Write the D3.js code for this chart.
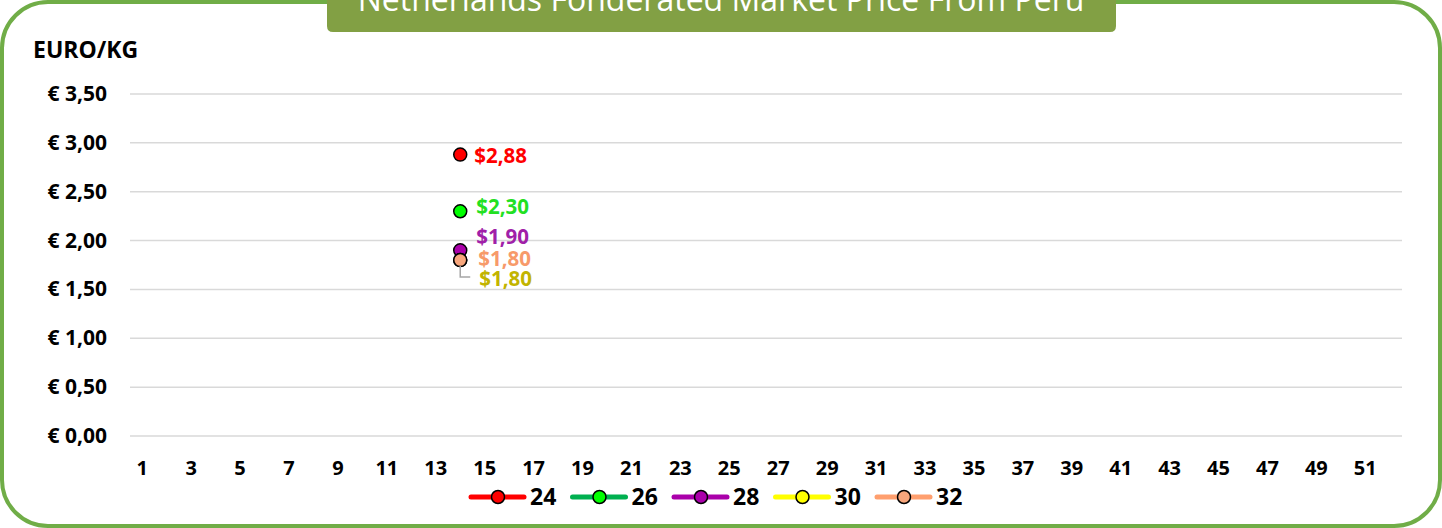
<!DOCTYPE html>
<html>
<head>
<meta charset="utf-8">
<script src="https://cdn.jsdelivr.net/npm/d3@7"></script>
<style>
  html, body { margin: 0; padding: 0; background: #fff; }
  svg { display: block; font-family: "Open Sans", "Noto Sans", sans-serif; }
</style>
</head>
<body>
<div id="chart"></div>
<script>
// chart data
const weeks = d3.range(1, 53);
const seriesNames = ["24", "26", "28", "30", "32"];
const seriesWeek = [14, 14, 14, 14, 14];
const seriesValues = [2.88, 2.30, 1.90, 1.80, 1.80];
const seriesLabels = ["$2,88", "$2,30", "$1,90", "$1,80", "$1,80"];
const yTicks = [0, 0.5, 1, 1.5, 2, 2.5, 3, 3.5];
const title = "Netherlands Fonderated Market Price From Peru";

const lineColors = ["#ff0000", "#00b050", "#aa00aa", "#ffff00", "#ff9f6e"];
const fillColors = ["#ff0000", "#00ff00", "#aa00aa", "#ffff00", "#f7a67c"];
const labelColors = ["#ff0000", "#22e022", "#a020a8", "#c2b400", "#f79a6a"];

const W = 1442, H = 528;
const margin = { top: 94, right: 40, bottom: 92, left: 130 };

const svg = d3.select("#chart").append("svg")
  .attr("width", W)
  .attr("height", H);

// outer rounded frame
svg.append("rect")
  .attr("x", 2).attr("y", 2)
  .attr("width", W - 4).attr("height", H - 4)
  .attr("rx", 46).attr("ry", 46)
  .attr("fill", "#fff")
  .attr("stroke", "#70ad47")
  .attr("stroke-width", 4);

// title banner (clipped at top)
svg.append("path")
  .attr("d", "M327,0 L1116,0 L1116,26 Q1116,32 1110,32 L333,32 Q327,32 327,26 Z")
  .attr("fill", "#82a044");
svg.append("text")
  .attr("x", 721).attr("y", 11)
  .attr("text-anchor", "middle")
  .attr("fill", "#fff")
  .attr("font-size", 32)
  .text(title);

const x = d3.scaleBand()
  .domain(weeks)
  .range([margin.left, W - margin.right]);

const y = d3.scaleLinear()
  .domain([0, 3.5])
  .range([H - margin.bottom, margin.top]);

// gridlines
svg.append("g")
  .selectAll("line")
  .data(yTicks)
  .join("line")
  .attr("x1", margin.left)
  .attr("x2", W - margin.right)
  .attr("y1", d => y(d))
  .attr("y2", d => y(d))
  .attr("stroke", "#d9d9d9")
  .attr("stroke-width", 1.5);

// y labels
svg.append("g")
  .selectAll("text")
  .data(yTicks)
  .join("text")
  .attr("x", 107)
  .attr("y", d => y(d) + 7)
  .attr("text-anchor", "end")
  .attr("font-size", 21)
  .attr("font-weight", "bold")
  .text(d => "€ " + d3.format(".2f")(d).replace(".", ","));

svg.append("text")
  .attr("x", 33).attr("y", 58)
  .attr("font-size", 23)
  .attr("font-weight", "bold")
  .text("EURO/KG");

// x labels
svg.append("g")
  .selectAll("text")
  .data(weeks.filter(d => d % 2 === 1))
  .join("text")
  .attr("x", d => x(d) + x.bandwidth() / 2)
  .attr("y", 475)
  .attr("text-anchor", "middle")
  .attr("font-size", 20)
  .attr("font-weight", "bold")
  .text(d => d);

// points
const pts = seriesNames.map((name, i) => ({
  name, i,
  cx: x(seriesWeek[i]) + x.bandwidth() / 2,
  cy: y(seriesValues[i])
}));

svg.append("g")
  .selectAll("circle")
  .data(pts)
  .join("circle")
  .attr("cx", d => d.cx)
  .attr("cy", d => d.cy)
  .attr("r", 6.5)
  .attr("fill", d => fillColors[d.i])
  .attr("stroke", "#000")
  .attr("stroke-width", 1.5);

// data labels
const labelOffsets = [
  { dx: 14, dy: 1 },
  { dx: 16, dy: -4 },
  { dx: 16, dy: -13 },
  { dx: 19, dy: 19 },
  { dx: 18, dy: -1 }
];

// leader line for week-30 label
const p30 = pts[3];
svg.append("path")
  .attr("d", `M${p30.cx},${p30.cy + 6} V${p30.cy + 17} H${p30.cx + 10}`)
  .attr("fill", "none")
  .attr("stroke", "#a6a6a6")
  .attr("stroke-width", 1.5);

svg.append("g")
  .selectAll("text")
  .data(pts)
  .join("text")
  .attr("x", d => d.cx + labelOffsets[d.i].dx)
  .attr("y", d => d.cy + labelOffsets[d.i].dy + 7)
  .attr("font-size", 20.5)
  .attr("font-weight", "bold")
  .attr("fill", d => labelColors[d.i])
  .text(d => seriesLabels[d.i]);

// legend
const legend = svg.append("g")
  .selectAll("g")
  .data(seriesNames)
  .join("g")
  .attr("transform", (d, i) => `translate(${471 + i * 101.5},497)`);

legend.append("line")
  .attr("x1", 0).attr("x2", 53)
  .attr("stroke", (d, i) => lineColors[i])
  .attr("stroke-width", 5)
  .attr("stroke-linecap", "round");

legend.append("circle")
  .attr("cx", 27)
  .attr("r", 6.5)
  .attr("fill", (d, i) => fillColors[i])
  .attr("stroke", "#000")
  .attr("stroke-width", 1.5);

legend.append("text")
  .attr("x", 59)
  .attr("y", 8)
  .attr("font-size", 23)
  .attr("font-weight", "bold")
  .text(d => d);
</script>
</body>
</html>
